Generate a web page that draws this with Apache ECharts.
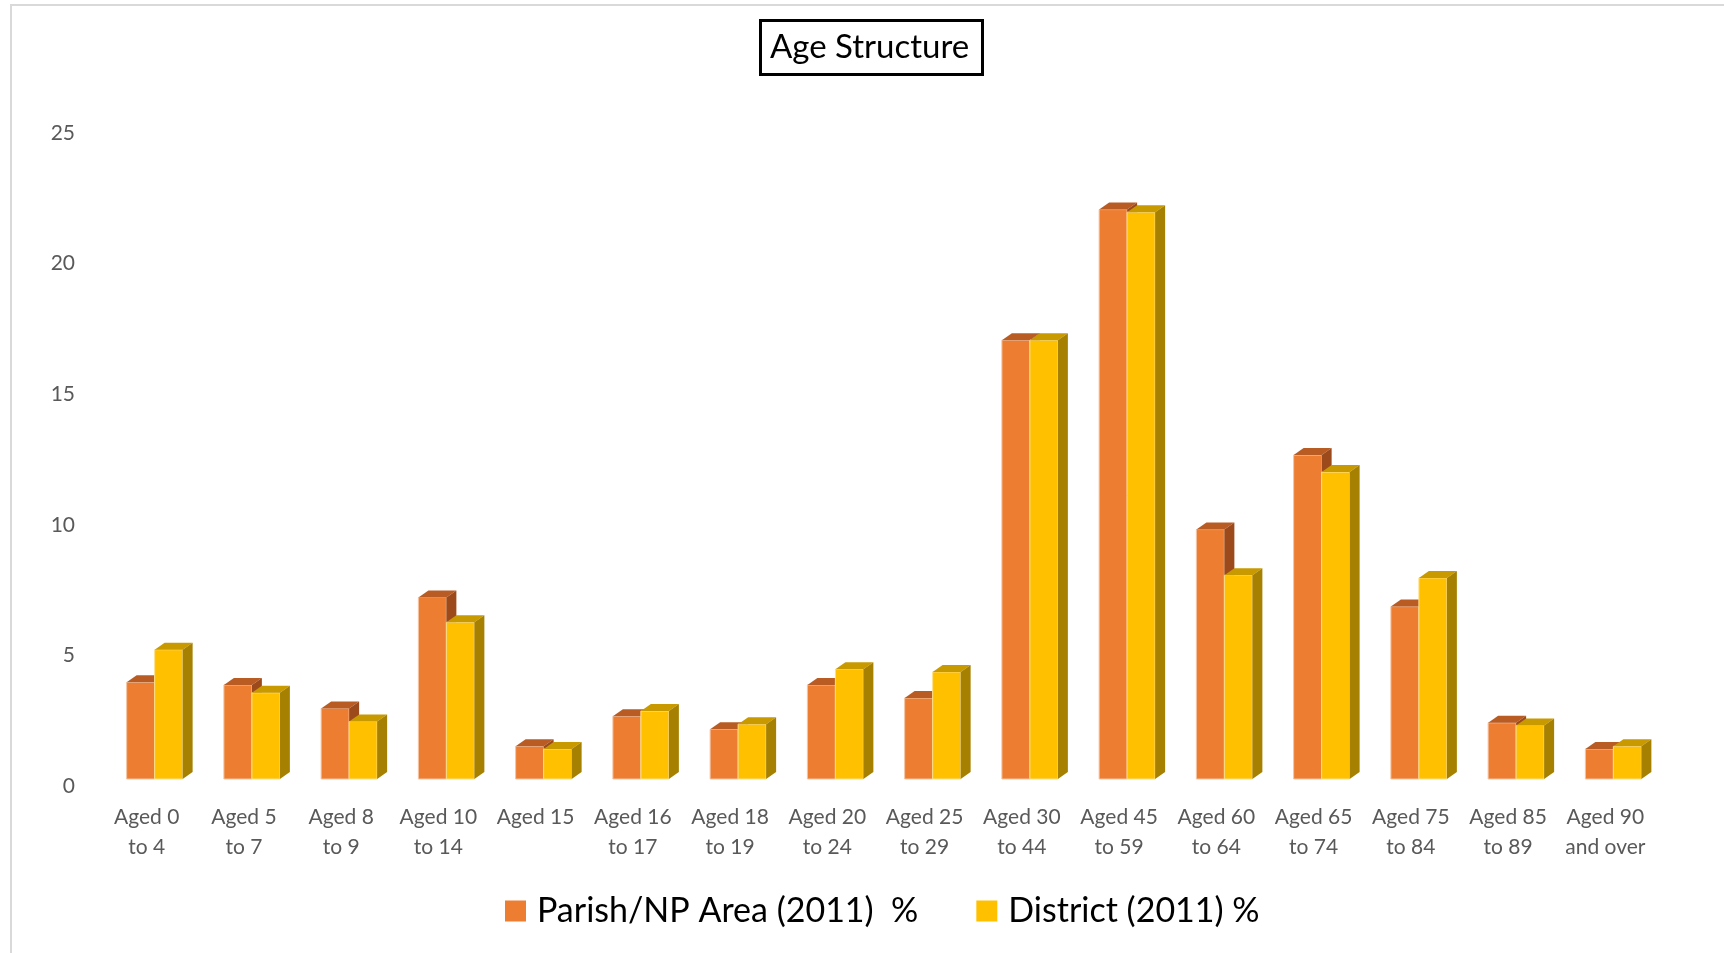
<!DOCTYPE html>
<html><head><meta charset="utf-8">
<script src="https://cdn.jsdelivr.net/npm/echarts@6/dist/echarts.min.js"></script>
<style>html,body{margin:0;padding:0;background:#fff}#c{width:1724px;height:953px}</style>
</head><body><div id="c"></div>
<script>
const categories = ['Aged 0\nto 4','Aged 5\nto 7','Aged 8\nto 9','Aged 10\nto 14','Aged 15','Aged 16\nto 17','Aged 18\nto 19','Aged 20\nto 24','Aged 25\nto 29','Aged 30\nto 44','Aged 45\nto 59','Aged 60\nto 64','Aged 65\nto 74','Aged 75\nto 84','Aged 85\nto 89','Aged 90\nand over'];
const parishValues = [3.7, 3.6, 2.7, 6.95, 1.25, 2.4, 1.9, 3.6, 3.1, 16.8, 21.8, 9.55, 12.4, 6.6, 2.15, 1.15];
const districtValues = [4.95, 3.3, 2.2, 6.0, 1.15, 2.6, 2.1, 4.2, 4.1, 16.8, 21.7, 7.8, 11.75, 7.7, 2.05, 1.25];
const seriesNames = ['Parish/NP Area (2011)  %', 'District (2011) %'];
const yMin = 0, yMax = 25, yInterval = 5;

const FONT = 'Lato';
const BAR_W = 28, SHIFT = 8, DX = 10, DY = 7;
const palettes = [
  {front:'#ED7D31', top:'#B95C24', side:'#9C4A1C', edge:'#F6C5A3'},
  {front:'#FFC000', top:'#C99A00', side:'#A68000', edge:'#FFE08A'}
];

function makeRender(idx) {
  const c = palettes[idx];
  return function (params, api) {
    const i = api.value(0), v = api.value(1);
    const top = api.coord([i, v]);
    const base = api.coord([i, 0]);
    const cx = top[0];
    const x0 = idx === 0 ? cx + SHIFT - BAR_W : cx + SHIFT;
    const x1 = x0 + BAR_W;
    const yb = base[1] - DY;
    const yt = top[1] - DY;
    return {type:'group', children:[
      {type:'rect', shape:{x:x0, y:yt, width:BAR_W, height:yb - yt}, style:{fill:c.front, stroke:c.edge, lineWidth:1}},
      {type:'polygon', shape:{points:[[x0,yt],[x1,yt],[x1+DX,yt-DY],[x0+DX,yt-DY]]}, style:{fill:c.top}},
      {type:'polygon', shape:{points:[[x1,yt],[x1+DX,yt-DY],[x1+DX,yb-DY],[x1,yb]]}, style:{fill:c.side}}
    ]};
  };
}

const chart = echarts.init(document.getElementById('c'), null, {renderer:'canvas'});
chart.setOption({
  animation:false,
  backgroundColor:'#fff',
  textStyle:{fontFamily:FONT},
  graphic:[
    {type:'polyline', shape:{points:[[11,953],[11,5],[1724,5]]}, style:{stroke:'#D9D9D9', lineWidth:2, fill:null}, silent:true}
  ],
  title:{
    text:'Age Structure', left:760, top:20,
    padding:[11,13,11,10],
    borderColor:'#000', borderWidth:3,
    textStyle:{fontFamily:FONT, fontSize:33, fontWeight:'normal', color:'#000'}
  },
  legend:{
    data:seriesNames, bottom:20, left:500,
    icon:'rect', itemWidth:21, itemHeight:21, itemGap:58,
    textStyle:{fontFamily:FONT, fontSize:34, color:'#000', padding:[0,0,0,6]}
  },
  grid:{left:98, right:70, top:133, bottom:167, containLabel:false},
  xAxis:{
    type:'category', data:categories,
    axisLine:{show:false}, axisTick:{show:false}, splitLine:{show:false},
    axisLabel:{interval:0, color:'#595959', fontFamily:FONT, fontSize:21, lineHeight:30, margin:16}
  },
  yAxis:{
    type:'value', min:yMin, max:yMax, interval:yInterval,
    axisLine:{show:false}, axisTick:{show:false}, splitLine:{show:false},
    axisLabel:{color:'#595959', fontFamily:FONT, fontSize:21, margin:23}
  },
  series:[
    {name:seriesNames[0], type:'custom', itemStyle:{color:palettes[0].front}, renderItem:makeRender(0), encode:{x:0,y:1},
     data:parishValues.map((v,i)=>[i,v])},
    {name:seriesNames[1], type:'custom', itemStyle:{color:palettes[1].front}, renderItem:makeRender(1), encode:{x:0,y:1},
     data:districtValues.map((v,i)=>[i,v])}
  ]
});
</script></body></html>
